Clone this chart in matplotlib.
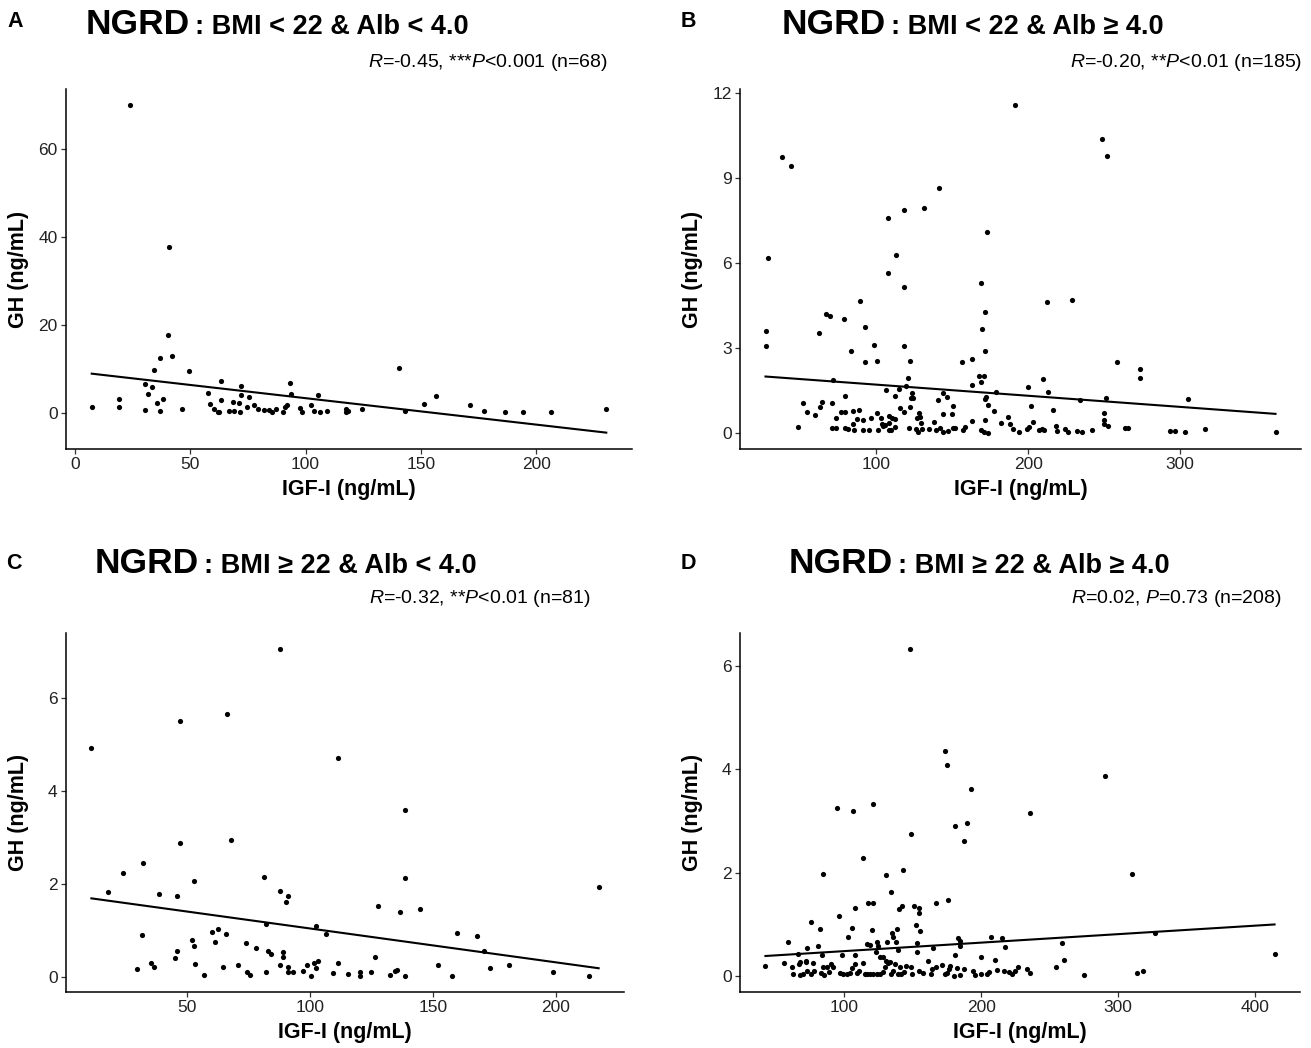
import numpy as np
import matplotlib
matplotlib.use("Agg")
import matplotlib.pyplot as plt

plt.rcParams['font.family'] = ['Liberation Sans', 'DejaVu Sans']
plt.rcParams['mathtext.fontset'] = 'custom'
plt.rcParams['mathtext.rm'] = 'Liberation Sans'
plt.rcParams['mathtext.it'] = 'Liberation Sans:italic'

# ---- panel A : BMI < 22 & Alb < 4.0 ----
a_igf = [7.3, 19.1, 19.1, 23.8, 30.4, 30.4, 31.6, 33.3, 34.2, 35.8, 36.7, 36.9, 38.2, 40.2,
         40.7, 42.2, 46.4, 49.6, 57.6, 58.4, 60.4, 62.0, 63.3, 63.3, 62.5, 66.9, 68.5, 68.9,
         71.3, 71.5, 72.2, 72.2, 74.5, 75.3, 77.5, 79.5, 82.2, 84.0, 85.5, 87.1, 90.2, 90.9,
         91.8, 93.1, 93.8, 97.8, 98.5, 102.2, 103.5, 105.3, 106.2, 109.5, 117.6, 117.6, 118.2,
         124.4, 140.4, 143.3, 151.3, 156.4, 171.5, 177.5, 186.4, 194.2, 206.4, 230.4]
a_gh = [1.3, 3.2, 1.4, 69.8, 6.6, 0.6, 4.3, 5.8, 9.7, 2.3, 0.4, 12.5, 3.2, 17.6,
        37.6, 12.8, 0.8, 9.4, 4.5, 2.0, 0.9, 0.3, 7.3, 3.0, 0.2, 0.5, 2.5, 0.5,
        2.3, 0.1, 6.1, 4.1, 1.4, 3.5, 1.8, 0.9, 0.6, 0.6, 0.2, 0.8, 0.2, 1.4,
        1.7, 6.7, 4.2, 1.0, 0.1, 1.9, 0.5, 4.1, 0.2, 0.5, 0.3, 0.8, 0.5,
        0.8, 10.3, 0.5, 2.1, 3.9, 1.9, 0.4, 0.2, 0.3, 0.3, 0.8]
a_fit = (9.34, -0.060)  # intercept, slope

# ---- panel B : BMI < 22 & Alb >= 4.0 ----
b_igf = [38.0, 44.1, 28.9, 27.5, 27.0, 66.7, 69.4, 62.3, 78.8, 89.3, 92.3, 108.0, 108.0, 112.9,
         118.2, 118.2, 131.4, 141.3, 173.0, 168.9, 171.6, 169.7, 191.2, 212.4, 228.7, 249.0, 251.8,
         83.5, 98.5, 92.3, 100.4, 118.5, 122.4, 71.4, 121.1, 106.3, 115.2, 119.6, 143.8, 112.4,
         123.5, 122.8, 124.5, 79.1, 140.7, 51.4, 64.1, 62.6, 70.8, 54.2, 59.6, 76.5, 79.3, 84.5,
         88.4, 73.2, 91.5, 87.4, 96.3, 100.2, 84.5, 103.3, 108.3, 110.2, 112.4, 103.7, 105.4,
         108.5, 115.7, 118.5, 122.2, 128.1, 128.8, 126.6, 129.2, 138.1, 144.2, 48.2, 71.0, 73.2,
         79.7, 81.5, 85.0, 91.1, 95.5, 101.1, 104.2, 108.1, 109.6, 112.4, 121.6, 126.0, 127.7,
         129.9, 134.7, 139.1, 141.9,
         171.9, 156.7, 162.8, 258.4, 167.5, 170.8, 169.0, 162.8, 178.9, 146.6, 172.4, 171.8,
         150.5, 173.9, 149.7, 177.8, 199.8, 210.0, 213.1, 202.0, 216.1, 234.2, 251.4, 250.3,
         162.8, 171.9, 181.9, 186.9, 188.0, 203.1, 218.1, 250.3, 250.1, 252.9, 144.0, 147.5,
         150.7, 151.8, 157.2, 158.5, 169.2, 170.9, 173.9, 190.0, 194.1, 199.2, 200.3, 207.3,
         209.4, 210.7, 219.2, 224.4, 226.0, 232.0, 235.3, 242.0, 263.9, 265.6,
         273.4, 273.4, 305.4, 293.5, 296.6, 303.5, 316.6, 363.0]
b_gh = [9.76, 9.45, 6.20, 3.62, 3.06, 4.21, 4.12, 3.55, 4.02, 4.65, 3.76, 7.59, 5.65, 6.28,
        7.87, 5.15, 7.95, 8.67, 7.12, 5.29, 4.27, 3.67, 11.58, 4.64, 4.69, 10.38, 9.80,
        2.91, 3.11, 2.51, 2.53, 3.07, 2.55, 1.88, 1.93, 1.51, 1.55, 1.65, 1.42, 1.31,
        1.40, 1.24, 1.25, 1.30, 1.15, 1.05, 1.08, 0.92, 1.06, 0.74, 0.64, 0.75, 0.74, 0.79,
        0.82, 0.54, 0.45, 0.48, 0.52, 0.72, 0.33, 0.54, 0.59, 0.54, 0.49, 0.33, 0.28,
        0.34, 0.87, 0.74, 0.90, 0.69, 0.56, 0.52, 0.35, 0.38, 0.66, 0.21, 0.18, 0.19,
        0.19, 0.13, 0.12, 0.12, 0.10, 0.12, 0.26, 0.11, 0.09, 0.21, 0.18, 0.13, 0.02,
        0.15, 0.13, 0.12, 0.16,
        2.89, 2.51, 2.60, 2.51, 2.01, 2.00, 1.79, 1.69, 1.43, 1.26, 1.28, 1.21,
        0.96, 0.99, 0.66, 0.77, 1.62, 1.90, 1.46, 0.96, 0.82, 1.18, 1.22, 0.69,
        0.42, 0.44, 0.34, 0.55, 0.31, 0.40, 0.26, 0.44, 0.31, 0.25, 0.05, 0.08,
        0.16, 0.18, 0.11, 0.20, 0.11, 0.04, 0.01, 0.15, 0.04, 0.13, 0.20, 0.09,
        0.14, 0.10, 0.08, 0.15, 0.02, 0.08, 0.04, 0.11, 0.16, 0.17,
        2.27, 1.95, 1.21, 0.06, 0.06, 0.04, 0.15, 0.05]
b_fit = (2.10, -0.00393)

# ---- panel C : BMI >= 22 & Alb < 4.0 ----
c_igf = [11.2, 18.1, 24.0, 29.9, 31.7, 32.3, 35.3, 36.7, 38.5, 45.2, 46.0, 46.0, 47.1, 47.2,
         52.1, 52.9, 53.1, 53.3, 56.9, 60.1, 61.6, 62.6, 64.9, 66.0, 66.2, 68.0, 70.8, 74.1,
         74.6, 75.5, 78.0, 81.4, 82.3, 82.3, 83.1, 84.2, 88.0, 87.8, 88.0, 89.3, 89.3, 90.3,
         91.3, 91.0, 91.0, 93.1, 97.1, 98.7, 100.3, 101.6, 102.4, 102.4, 103.4, 106.6, 109.5,
         111.5, 111.5, 115.7, 120.6, 120.6, 124.8, 126.6, 127.8, 132.6, 134.7, 135.6, 136.8,
         138.6, 138.6, 138.6, 144.7, 152.0, 157.7, 160.0, 167.9, 171.0, 173.1, 180.9, 198.8,
         213.3, 217.4]
c_gh = [4.92, 1.82, 2.23, 0.17, 0.90, 2.46, 0.31, 0.21, 1.79, 0.41, 0.57, 1.74, 5.51, 2.89,
        0.79, 2.07, 0.66, 0.29, 0.04, 0.97, 0.76, 1.04, 0.22, 0.93, 5.66, 2.95, 0.27, 0.73,
        0.11, 0.04, 0.62, 2.16, 1.14, 0.11, 0.57, 0.50, 7.05, 1.86, 0.26, 0.55, 0.44, 1.61,
        1.74, 0.22, 0.10, 0.11, 0.14, 0.27, 0.03, 0.30, 0.19, 1.09, 0.34, 0.93, 0.09,
        4.71, 0.31, 0.06, 0.11, 0.03, 0.11, 0.44, 1.52, 0.04, 0.13, 0.15, 1.41,
        3.59, 2.14, 0.03, 1.46, 0.27, 0.03, 0.94, 0.89, 0.57, 0.19, 0.26, 0.11,
        0.03, 1.94]
c_fit = (1.775, -0.00729)

# ---- panel D : BMI >= 22 & Alb >= 4.0 ----
d_igf = [148.1, 173.7, 174.9, 290.7, 192.5, 94.3, 106.0, 120.9, 235.5, 180.9, 189.6, 149.0,
         187.8, 114.0, 84.8, 130.7, 142.7, 310.4, 133.9, 117.0, 120.9, 107.8, 96.1, 141.8,
         140.0, 150.7, 154.6, 154.6, 166.9, 175.8, 75.5, 152.5, 155.5, 82.4, 105.7, 120.0,
         138.8, 102.7, 134.6, 135.8, 58.8, 72.8, 80.9, 116.7, 119.1, 123.9, 124.8, 131.3,
         137.6, 139.1, 153.4, 152.8, 164.8, 183.0, 184.5, 206.9, 215.0, 217.6, 258.8, 327.2,
         414.3, 66.0, 83.9, 98.5, 108.1, 126.3, 200.0, 180.9, 209.9, 260.6,
         42.4, 56.0, 61.5, 62.7, 66.7, 67.4, 69.8, 71.7, 72.7, 75.8, 77.0, 77.5, 83.0, 84.2,
         84.9, 87.1, 89.0, 90.2, 91.4, 96.6, 99.0, 102.1, 104.5, 105.7, 107.6, 109.3, 110.9,
         114.0, 114.8, 116.5, 118.9, 121.3, 123.7, 126.1, 128.4, 129.6, 132.0, 134.0, 135.6,
         137.3, 139.2, 128.4, 130.5, 133.5, 72.2, 67.4, 123.0,
         184.6, 161.5, 141.0, 141.6, 143.5, 145.2, 148.8, 149.5, 154.8, 157.2, 163.2, 164.4,
         166.7, 171.5, 173.4, 175.1, 176.3, 177.5, 179.9, 182.3, 184.6, 187.7, 194.2, 195.4,
         199.7, 204.5, 205.4, 211.6, 216.4, 220.5, 222.8, 224.5, 226.9, 233.6, 235.5,
         254.9, 274.9, 313.7, 318.5]
d_gh = [6.32, 4.36, 4.09, 3.88, 3.61, 3.26, 3.20, 3.32, 3.15, 2.91, 2.96, 2.75,
        2.61, 2.28, 1.98, 1.95, 2.05, 1.98, 1.63, 1.42, 1.42, 1.31, 1.16, 1.36,
        1.30, 1.36, 1.32, 1.22, 1.41, 1.47, 1.04, 0.99, 0.87, 0.91, 0.93, 0.89,
        0.91, 0.75, 0.83, 0.75, 0.67, 0.54, 0.59, 0.62, 0.61, 0.67, 0.58, 0.66,
        0.67, 0.51, 0.65, 0.46, 0.54, 0.74, 0.58, 0.76, 0.73, 0.56, 0.64, 0.84,
        0.43, 0.43, 0.41, 0.41, 0.41, 0.38, 0.37, 0.41, 0.32, 0.32,
        0.20, 0.26, 0.17, 0.04, 0.23, 0.02, 0.04, 0.27, 0.10, 0.05, 0.26, 0.10, 0.07, 0.17,
        0.02, 0.18, 0.09, 0.23, 0.17, 0.07, 0.05, 0.05, 0.07, 0.15, 0.23, 0.07, 0.10,
        0.26, 0.05, 0.04, 0.05, 0.04, 0.05, 0.05, 0.09, 0.17, 0.26, 0.04, 0.10,
        0.23, 0.04, 0.37, 0.30, 0.28, 0.30, 0.28, 0.47,
        0.68, 0.30, 0.17, 0.05, 0.08, 0.20, 0.17, 0.04, 0.10, 0.07, 0.05, 0.13,
        0.17, 0.22, 0.04, 0.07, 0.13, 0.20, 0.01, 0.15, 0.02, 0.13, 0.10, 0.02,
        0.05, 0.04, 0.09, 0.12, 0.10, 0.09, 0.04, 0.10, 0.18, 0.13, 0.07,
        0.17, 0.03, 0.06, 0.11]
d_fit = (0.321, 0.00164)

letters = ['A', 'B', 'C', 'D']
subtitles = [': BMI < 22 & Alb < 4.0', ': BMI < 22 & Alb \u2265 4.0',
             ': BMI \u2265 22 & Alb < 4.0', ': BMI \u2265 22 & Alb \u2265 4.0']
stats = [r'$\mathit{R}$=-0.45, ***$\mathit{P}$<0.001 (n=68)',
         r'$\mathit{R}$=-0.20, **$\mathit{P}$<0.01 (n=185)',
         r'$\mathit{R}$=-0.32, **$\mathit{P}$<0.01 (n=81)',
         r'$\mathit{R}$=0.02, $\mathit{P}$=0.73 (n=208)']
xticks = [[0, 50, 100, 150, 200], [100, 200, 300], [50, 100, 150, 200], [100, 200, 300, 400]]
yticks = [[0, 20, 40, 60], [0, 3, 6, 9, 12], [0, 2, 4, 6], [0, 2, 4, 6]]

W, H = 1311, 1048
fig = plt.figure(figsize=(W / 100, H / 100), dpi=100)

def px(x, y):
    return x / W, 1 - y / H

# axes boxes in pixels: left, top, right, bottom
boxes = [(66, 89, 632, 449), (740, 89, 1301, 449), (66, 633, 624, 992), (740, 633, 1300, 992)]
# text anchors in pixels
letter_xy = [(7, 27), (681, 27), (6, 569), (681, 569)]
ngrd_xy = [(86, 34), (782, 34), (95, 573), (789, 573)]
sub_xy = [(195, 34), (891, 34), (204, 573), (898, 573)]
stat_xy = [(608, 67), (1302, 67), (590, 603), (1282, 603)]

datasets = [(a_igf, a_gh, a_fit), (b_igf, b_gh, b_fit), (c_igf, c_gh, c_fit), (d_igf, d_gh, d_fit)]

for i, (xs, ys, fit) in enumerate(datasets):
    l, t, r, b = boxes[i]
    x0, y0 = px(l, b)
    x1, y1 = px(r, t)
    ax = fig.add_axes([x0, y0, x1 - x0, y1 - y0])
    xs = np.array(xs)
    ys = np.array(ys)
    ax.scatter(xs, ys, s=14, color='black', linewidths=0, zorder=3)
    lx = np.array([xs.min(), xs.max()])
    ax.plot(lx, fit[0] + fit[1] * lx, color='black', lw=1.5, zorder=2)
    ax.margins(0.05)
    ax.set_xticks(xticks[i])
    ax.set_yticks(yticks[i])
    for s in ['top', 'right']:
        ax.spines[s].set_visible(False)
    for s in ['left', 'bottom']:
        ax.spines[s].set_linewidth(1.1)
    ax.tick_params(length=3.6, width=0.9, color='#333333', labelcolor='#222222',
                   labelsize=12.5, pad=2.5)
    ax.set_xlabel('IGF-I (ng/mL)', fontsize=15.5, fontweight='bold')
    ax.set_ylabel('GH (ng/mL)', fontsize=15.5, fontweight='bold')
    wpx, hpx = r - l, b - t
    ax.xaxis.set_label_coords(0.5, -30 / hpx)
    ax.yaxis.set_label_coords(-37 / wpx, 0.5)

    fig.text(*px(*letter_xy[i]), letters[i], fontsize=15.5, fontweight='bold', va='baseline')
    fig.text(*px(*ngrd_xy[i]), 'NGRD', fontsize=25.5, fontweight='bold', va='baseline')
    fig.text(*px(*sub_xy[i]), subtitles[i], fontsize=19.5, fontweight='bold', va='baseline')
    fig.text(*px(*stat_xy[i]), stats[i], fontsize=14, ha='right', va='baseline')

fig.savefig('out.png', dpi=100)
